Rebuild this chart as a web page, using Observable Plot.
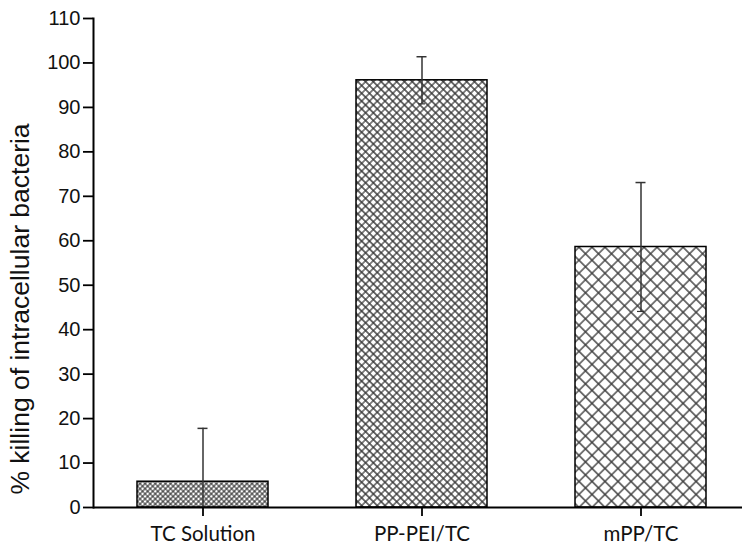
<!DOCTYPE html>
<html><head><meta charset="utf-8">
<script src="https://cdn.jsdelivr.net/npm/d3@7"></script>
<script src="https://cdn.jsdelivr.net/npm/@observablehq/plot@0.6"></script>
<style>body{margin:0;background:#fff}</style>
</head><body><div id="chart"></div>
<script>
const categories = ["TC Solution", "PP-PEI/TC", "mPP/TC"];
const means = [5.8, 96.1, 58.6];
const errors = [12.0, 5.3, 14.5];
const yTicks = [0, 10, 20, 30, 40, 50, 60, 70, 80, 90, 100, 110];
const yLabel = "% killing of intracellular bacteria";
const patterns = ["url(#hatch0)", "url(#hatch1)", "url(#hatch2)"];
const patternSizes = [3.6, 5.5, 9.2];

const data = categories.map((c, i) => ({name: c, mean: means[i], lo: means[i] - errors[i], hi: means[i] + errors[i]}));

const chart = Plot.plot({
  width: 742, height: 548,
  marginTop: 18, marginBottom: 41, marginLeft: 93, marginRight: 0,
  style: {fontFamily: "'Liberation Sans', Arial, sans-serif", fontSize: "20px", color: "#000", background: "#fff", overflow: "visible"},
  x: {domain: categories, range: [93, 750], paddingInner: 0.4, paddingOuter: 0.2},
  y: {domain: [0, 110], ticks: yTicks},
  color: {domain: categories, range: patterns},
  marks: [
    Plot.barY(data, {x: "name", y: "mean", fill: "name", stroke: "#000", strokeWidth: 1.5}),
    Plot.ruleX(data, {x: "name", y1: "lo", y2: "hi", stroke: "#333", strokeWidth: 1.5, clip: true}),
    Plot.tickY(data, {x: "name", y: "hi", insetLeft: 60.5, insetRight: 60.5, stroke: "#333", strokeWidth: 1.5}),
    Plot.tickY(data, {x: "name", y: "lo", insetLeft: 62, insetRight: 62, stroke: "#333", strokeWidth: 1.2, clip: true}),
    Plot.axisY({ticks: yTicks, tickSize: 10, tickPadding: 3, label: null, fontSize: 20, fill: "#111", strokeWidth: 1.8}),
    Plot.axisX({tickSize: 9, tickPadding: 10, label: null, fontFamily: "Lato, 'Open Sans', sans-serif", fontSize: 20.5, fill: "#111", strokeWidth: 1.8}),
    Plot.ruleY([0], {stroke: "#000", strokeWidth: 2}),
    Plot.frame({anchor: "left", stroke: "#000", strokeWidth: 2}),
    Plot.text([yLabel], {frameAnchor: "left", textAnchor: "middle", rotate: -90, dx: -73, dy: 46, fontSize: 26.5, fill: "#111"})
  ]
});

const hatchStroke = ["#222", "#333", "#3a3a3a"];
const hatchWidth = [1, 1.2, 1.3];
const defs = patterns.map((p, i) => {
  const s = patternSizes[i];
  const h = s / 2;
  return `<pattern id="hatch${i}" patternUnits="userSpaceOnUse" width="${s}" height="${s}" patternTransform="rotate(45)">` +
    `<rect width="${s}" height="${s}" fill="#fff"/>` +
    `<path d="M0 ${h}H${s}M${h} 0V${s}" stroke="${hatchStroke[i]}" stroke-width="${hatchWidth[i]}" fill="none"/></pattern>`;
}).join("");
chart.insertAdjacentHTML("afterbegin", `<defs>${defs}</defs>`);
document.getElementById("chart").appendChild(chart);
</script>
</body></html>
